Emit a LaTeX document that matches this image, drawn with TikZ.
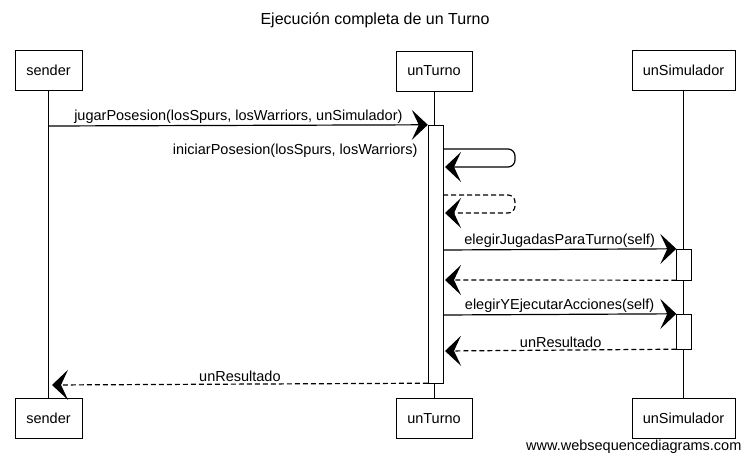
\documentclass[tikz,border=0pt]{standalone}
\usepackage{fontspec}
\setmainfont{Liberation Sans}
\usetikzlibrary{arrows.meta,positioning}
\begin{document}
\begin{tikzpicture}[x=1pt,y=-1pt,semithick,font=\fontsize{14.5}{16}\selectfont]
\tikzstyle{actor}=[draw,thin,fill=white,minimum height=40pt,inner sep=0pt]
	\tikzstyle{bar}=[draw,thin,fill=white,inner sep=0pt,minimum width=15pt]
\tikzstyle{msg}=[-{Stealth[length=16pt 0,width=30pt 0,inset=7pt 0]},line width=1.2pt]
\tikzstyle{ret}=[msg,dash pattern=on 5pt off 3pt]
\tikzstyle{lbl}=[above,inner sep=1.5pt]
\useasboundingbox (0,0) rectangle (750,462);

\node [font=\fontsize{16}{18}\selectfont] (title) at (375,20) {Ejecución completa de un Turno};

\node [actor,minimum width=67pt] (s) at (48.5,70) {sender};
\node [actor,minimum width=76pt] (t) at (434,71) {unTurno};
\node [actor,minimum width=103pt] (u) at (683.5,70.5) {unSimulador};

\node [actor,minimum width=67pt,below=308pt of s] (sb) {sender};
\node [actor,minimum width=76pt,below=307pt of t] (tb) {unTurno};
\node [actor,minimum width=103pt,below=307pt of u] (ub) {unSimulador};

\draw [thin] (s) -- (sb);
\draw [thin] (t) -- (tb);
\draw [thin] (u) -- (ub);

\node [bar,minimum height=258pt] (tact) at (435.5,254) {};
\node [bar,minimum height=31pt] (ua1) at (684,264.5) {};
\node [bar,minimum height=35pt] (ua2) at (684,331.5) {};

\coordinate (s1) at (49,126);
\coordinate (s2) at (52,385);
\coordinate (c1) at (443,149);
\coordinate (c2) at (445,167);
\coordinate (c3) at (443,195);
\coordinate (c4) at (445,213);
\coordinate (c5) at (443,250);
\coordinate (c6) at (445,280);
\coordinate (c7) at (443,315);
\coordinate (c8) at (445,351);

\draw [msg] (s1) -- node [lbl] {jugarPosesion(losSpurs, losWarriors, unSimulador)} (tact.north west);
\draw [msg,rounded corners=7pt] (c1) -- ++(72,0) -- ++(0,18) -- (c2);
\node [anchor=east] (iniLbl) at (421,151) {iniciarPosesion(losSpurs, losWarriors)};
\draw [ret,rounded corners=7pt] (c3) -- ++(72,0) -- ++(0,18) -- (c4);
\draw [msg] (c5) -- node [lbl] {elegirJugadasParaTurno(self)} (ua1.north west);
\draw [ret] (ua1.south west) -- (c6);
\draw [msg] (c7) -- node [lbl] {elegirYEjecutarAcciones(self)} (ua2.north west);
\draw [ret] (ua2.south west) -- node [lbl] {unResultado} (c8);
\draw [ret] (tact.south west) -- node [lbl] {unResultado} (s2);

\node [anchor=east] (site) at (745,447) {www.websequencediagrams.com};
\end{tikzpicture}
\end{document}
